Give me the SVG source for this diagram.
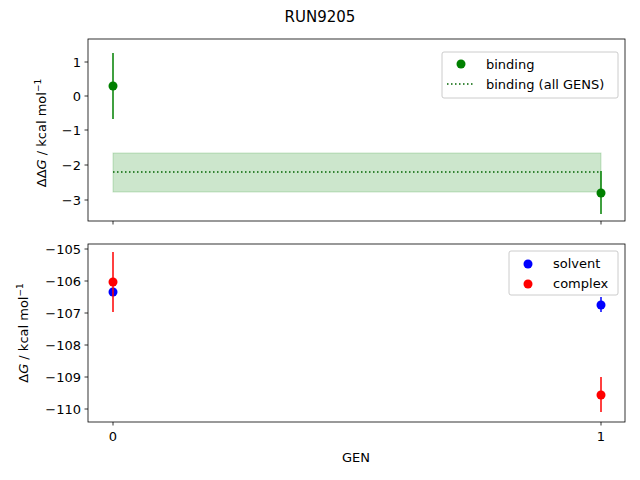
<svg xmlns="http://www.w3.org/2000/svg" width="640" height="480" viewBox="0 0 640 480">
<style>
text{font-family:"DejaVu Sans",sans-serif;font-size:13px;fill:#000}
.ax{fill:none;stroke:#000;stroke-width:0.8}
.tk{stroke:#000;stroke-width:0.8}
.yl{text-anchor:end}
</style>
<rect width="640" height="480" fill="#fff"/>
<text x="320" y="22" text-anchor="middle" style="font-size:15px">RUN9205</text>
<g id="top">
<rect x="113" y="153" width="488" height="39" fill="#008000" fill-opacity="0.2" stroke="#008000" stroke-opacity="0.2"/>
<line x1="113" y1="172" x2="601" y2="172" stroke="#006400" stroke-width="1.5" stroke-dasharray="1.5,2.5"/>
<line x1="113" y1="53" x2="113" y2="119" stroke="#008000" stroke-width="1.5"/>
<line x1="601" y1="171" x2="601" y2="214" stroke="#008000" stroke-width="1.5"/>
<circle cx="113" cy="86" r="4.5" fill="#008000"/>
<circle cx="601" cy="193" r="4.5" fill="#008000"/>
<rect x="88" y="39" width="537" height="182" class="ax"/>
<g class="tk"><line x1="84.5" y1="62" x2="88" y2="62"/><line x1="84.5" y1="96" x2="88" y2="96"/><line x1="84.5" y1="130" x2="88" y2="130"/><line x1="84.5" y1="165" x2="88" y2="165"/><line x1="84.5" y1="200" x2="88" y2="200"/><line x1="113" y1="221" x2="113" y2="224.5"/><line x1="601" y1="221" x2="601" y2="224.5"/></g>
<text class="yl" x="81" y="67">1</text><text class="yl" x="81" y="101">0</text><text class="yl" x="81" y="135">−1</text><text class="yl" x="81" y="170">−2</text><text class="yl" x="81" y="205">−3</text>
<text transform="translate(46,133) rotate(-90)" text-anchor="middle">ΔΔ<tspan font-style="italic">G</tspan> / kcal mol<tspan dy="-5" font-size="9">−1</tspan></text>
<rect x="442" y="52" width="176" height="46" rx="2" fill="#fff" fill-opacity="0.8" stroke="#ccc"/>
<circle cx="461" cy="64" r="4.5" fill="#008000"/>
<text x="486" y="69">binding</text>
<line x1="447" y1="84" x2="475" y2="84" stroke="#006400" stroke-width="1.5" stroke-dasharray="1.5,2.5"/>
<text x="486" y="89">binding (all GENS)</text>
</g>
<g id="bottom">
<line x1="113" y1="290" x2="113" y2="295" stroke="#0000ff" stroke-width="1.5"/>
<line x1="601" y1="297" x2="601" y2="312" stroke="#0000ff" stroke-width="1.5"/>
<circle cx="113" cy="292" r="4.5" fill="#0000ff"/>
<circle cx="601" cy="305" r="4.5" fill="#0000ff"/>
<line x1="113" y1="252" x2="113" y2="312" stroke="#ff0000" stroke-width="1.5"/>
<line x1="601" y1="377" x2="601" y2="412" stroke="#ff0000" stroke-width="1.5"/>
<circle cx="113" cy="282" r="4.5" fill="#ff0000"/>
<circle cx="601" cy="395" r="4.5" fill="#ff0000"/>
<rect x="88" y="244" width="537" height="178" class="ax"/>
<g class="tk"><line x1="84.5" y1="249" x2="88" y2="249"/><line x1="84.5" y1="281" x2="88" y2="281"/><line x1="84.5" y1="313" x2="88" y2="313"/><line x1="84.5" y1="345" x2="88" y2="345"/><line x1="84.5" y1="377" x2="88" y2="377"/><line x1="84.5" y1="409" x2="88" y2="409"/><line x1="113" y1="422" x2="113" y2="425.5"/><line x1="601" y1="422" x2="601" y2="425.5"/></g>
<text class="yl" x="81" y="254">−105</text><text class="yl" x="81" y="286">−106</text><text class="yl" x="81" y="318">−107</text><text class="yl" x="81" y="350">−108</text><text class="yl" x="81" y="382">−109</text><text class="yl" x="81" y="414">−110</text>
<text x="113" y="441" text-anchor="middle">0</text><text x="601" y="441" text-anchor="middle">1</text>
<text x="356" y="462" text-anchor="middle">GEN</text>
<text transform="translate(28,333) rotate(-90)" text-anchor="middle">Δ<tspan font-style="italic">G</tspan> / kcal mol<tspan dy="-5" font-size="9">−1</tspan></text>
<rect x="509" y="251" width="109" height="44" rx="2" fill="#fff" fill-opacity="0.8" stroke="#ccc"/>
<circle cx="528" cy="264" r="4.5" fill="#0000ff"/>
<text x="553" y="268">solvent</text>
<circle cx="528" cy="284" r="4.5" fill="#ff0000"/>
<text x="553" y="288">complex</text>
</g>
</svg>
